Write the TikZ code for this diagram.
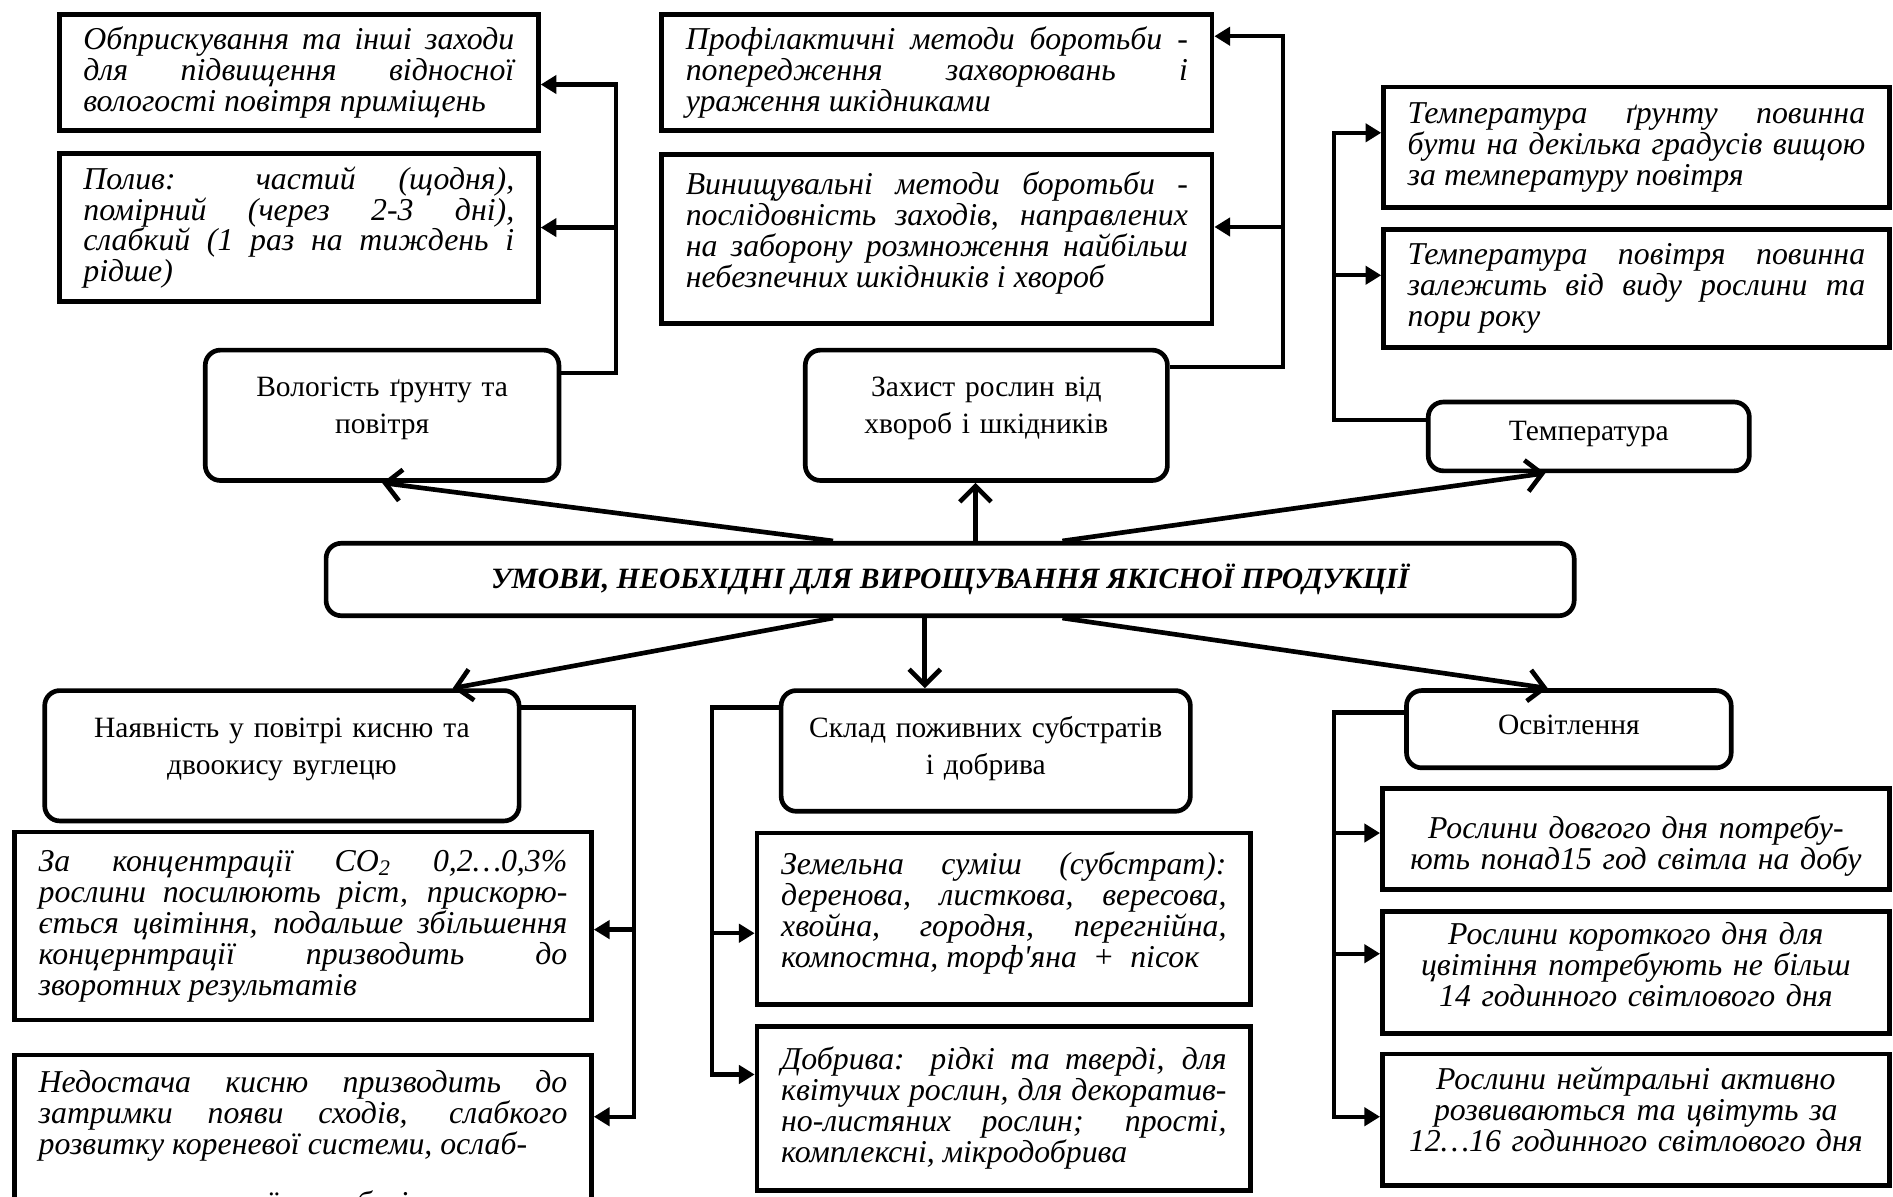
\documentclass[tikz,border=0pt]{standalone}
\usepackage{fontspec}
\setmainfont{Liberation Serif}
\usetikzlibrary{arrows.meta}
\begin{document}
\begin{tikzpicture}[x=0.02cm,y=-0.02cm]
\tikzstyle{txtbox}=[draw,line width=2.2pt,inner xsep=0.4cm,inner ysep=0.15cm,align=justify,font=\fontsize{15}{14.6}\selectfont\itshape]
\tikzstyle{midbox}=[txtbox,align=center]
\tikzstyle{rbox}=[draw,line width=2.2pt,rounded corners=0.25cm,inner xsep=0.2cm,align=center,font=\fontsize{13.9}{17.6}\selectfont]
\tikzstyle{link}=[line width=2pt,-{Triangle[length=2.6mm,width=3mm]}]
\tikzstyle{ray}=[line width=2.2pt,-{Straight Barb[length=2.6mm,width=5.2mm]}]
\useasboundingbox (0,0) rectangle (1568,991);
\clip (0,0) rectangle (1568,991);

\path (787,480) node[rbox,minimum width=20.68cm,minimum height=1.2cm,font=\fontsize{13.9}{16}\selectfont\bfseries\itshape](umovy){УМОВИ, НЕОБХІДНІ ДЛЯ ВИРОЩУВАННЯ ЯКІСНОЇ ПРОДУКЦІЇ};

\path (316.5,344) node[rbox,text width=5.46cm,minimum height=2.16cm,text depth=27pt](vologist){Вологість ґрунту та\\повітря};
\path (817,344) node[rbox,text width=5.6cm,minimum height=2.16cm,text depth=27pt](zakhyst){Захист рослин від\\хвороб і шкідників};
\path (1316,361.5) node[rbox,text width=4.92cm,minimum height=1.14cm,text depth=5.4pt](temper){Температура};
\path (233.5,626) node[rbox,text width=7.46cm,minimum height=2.16cm,text depth=26.4pt](nayavn){Наявність у повітрі кисню та\\двоокису вуглецю};
\path (816.5,622) node[rbox,text width=6.38cm,minimum height=2cm,text depth=23pt](sklad){Склад поживних субстратів\\і добрива};
\path (1299.5,604) node[rbox,text width=4.98cm,minimum height=1.28cm,text depth=4.6pt](osvit){Освітлення};

\path (247.5,60) node[txtbox,text width=7.14cm,minimum height=1.92cm](obpr){Обприскування та інші заходи\linebreak для підвищення відносної\linebreak вологості повітря приміщень};
\path (247.5,188.5) node[txtbox,text width=7.14cm,minimum height=2.46cm](polyv){Полив: частий (щодня),\linebreak помірний (через 2-3 дні),\linebreak слабкий (1 раз на тиждень і\linebreak рідше)};
\path (776,60) node[txtbox,text width=8.32cm,minimum height=1.92cm](profil){Профілактичні методи боротьби -\linebreak попередження захворювань і\linebreak ураження шкідниками};
\path (776,198) node[txtbox,text width=8.32cm,minimum height=2.8cm,text depth=52.8pt](vynysch){Винищувальні методи боротьби -\linebreak послідовність заходів, направлених\linebreak на заборону розмноження найбільш\linebreak небезпечних шкідників і хвороб};
\path (1355.5,122) node[txtbox,text width=7.58cm,minimum height=2cm](tgrunt){Температура ґрунту повинна\linebreak бути на декілька градусів вищою\linebreak за температуру повітря};
\path (1355.5,239) node[txtbox,text width=7.58cm,minimum height=1.96cm](tpovitr){Температура повітря повинна\linebreak залежить від виду рослини та\linebreak пори року};

\path (251,767) node[txtbox,text width=8.76cm,minimum height=3.12cm](koncentr){За концентрації CO\textsubscript{2} 0,2…0,3\%\linebreak рослини посилюють ріст, прискорю-\linebreak ється цвітіння, подальше збільшення\linebreak концернтрації призводить до\linebreak зворотних результатів};
\path (251,872) node[txtbox,anchor=north,inner ysep=0.25cm,text width=8.76cm](nedost){Недостача кисню призводить до\linebreak затримки появи сходів, слабкого\linebreak розвитку кореневої системи, ослаб\mbox{-}\par\vspace{13.5pt}\noindent лення рослин та їх загибелі};
\path (831.5,761) node[txtbox,text width=7.38cm,minimum height=2.84cm,text depth=52.8pt](zemsum){Земельна суміш (субстрат):\linebreak деренова, листкова, вересова,\linebreak хвойна, городня, перегнійна,\linebreak компостна, торф\textquotesingle яна\enspace+\enspace пісок};
\path (831.5,918) node[txtbox,text width=7.38cm,minimum height=2.72cm](dobryva){Добрива: рідкі та тверді, для\linebreak квітучих рослин, для декоратив-\linebreak но-листяних рослин; прості,\linebreak комплексні, мікродобрива};
\path (1355,695) node[midbox,text width=7.6cm,minimum height=1.68cm,text depth=11pt](dovgyi){Рослини довгого дня потребу-\\ють понад15 год світла на добу};
\path (1355,805.5) node[midbox,text width=7.6cm,minimum height=2.02cm,text depth=37pt](korotk){Рослини короткого дня для\\цвітіння потребують не більш\\14 годинного світлового дня};
\path (1355,927.5) node[midbox,text width=7.6cm,minimum height=2.18cm,text depth=39.3pt](neutr){Рослини нейтральні активно\\розвиваються та цвітуть за\\12…16 годинного світлового дня};

\coordinate (vb1) at (510,70);
\coordinate (vb2) at (510,188.5);
\draw[link] ([yshift=-0.42cm]vologist.north east) -| (vb1) -- (vb1 -| obpr.east);
\draw[link] (vb2) -- (vb2 -| polyv.east);

\coordinate (zb1) at (1063,30);
\coordinate (zb2) at (1063,188);
\draw[link] ([yshift=-0.32cm]zakhyst.north east) -| (zb1) -- (zb1 -| profil.east);
\draw[link] (zb2) -- (zb2 -| vynysch.east);

\coordinate (tb1) at (1105,110);
\coordinate (tb2) at (1105,228);
\draw[link] ([yshift=-0.34cm]temper.north west) -| (tb1) -- (tb1 -| tgrunt.west);
\draw[link] (tb2) -- (tb2 -| tpovitr.west);

\coordinate (nb1) at (525,925);
\coordinate (nb2) at (525,770);
\draw[link] ([yshift=-0.32cm]nayavn.north east) -| (nb1) -- (nb1 -| nedost.east);
\draw[link] (nb2) -- (nb2 -| koncentr.east);

\coordinate (sb1) at (590,890);
\coordinate (sb2) at (590,773);
\draw[link] ([yshift=-0.32cm]sklad.north west) -| (sb1) -- (sb1 -| dobryva.west);
\draw[link] (sb2) -- (sb2 -| zemsum.west);

\coordinate (ob1) at (1105,925);
\coordinate (ob2) at (1105,690);
\coordinate (ob3) at (1105,790);
\draw[link] ([yshift=-0.4cm]osvit.north west) -| (ob1) -- (ob1 -| neutr.west);
\draw[link] (ob2) -- (ob2 -| dovgyi.west);
\draw[link] (ob3) -- (ob3 -| korotk.west);

\draw[ray] ([xshift=-1.94cm]umovy.north) -- (vologist.south);
\draw[ray] ([xshift=0.42cm]umovy.north) -- ([xshift=0.42cm]umovy.north |- zakhyst.south);
\draw[ray] ([xshift=1.86cm]umovy.north) -- ([xshift=-0.72cm]temper.south);
\draw[ray] ([xshift=-1.94cm]umovy.south) -- ([xshift=2.83cm]nayavn.north);
\draw[ray] ([xshift=-0.42cm]umovy.south) -- ([xshift=-0.42cm]umovy.south |- sklad.north);
\draw[ray] ([xshift=1.86cm]umovy.south) -- ([xshift=-0.35cm]osvit.north);
\end{tikzpicture}
\end{document}
